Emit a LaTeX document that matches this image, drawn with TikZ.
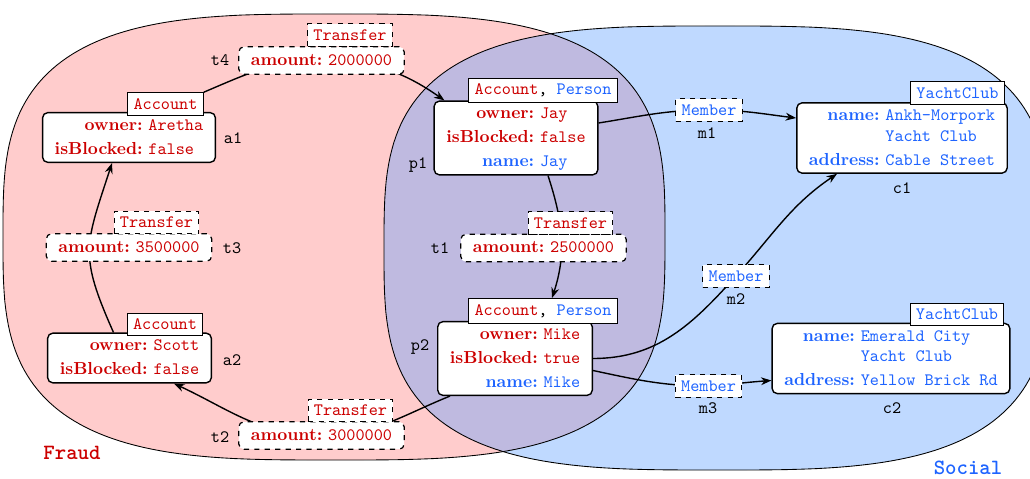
\documentclass[tikz,border=0pt]{standalone}
\usetikzlibrary{arrows.meta,calc}
\definecolor{fred}{RGB}{204,0,0}
\definecolor{sblue}{RGB}{30,100,255}
\definecolor{fraudfill}{RGB}{255,204,204}
\definecolor{socialfill}{RGB}{95,160,255}
\pgfdeclarelayer{regions}
\pgfdeclarelayer{edges}
\pgfsetlayers{regions,edges,main}
\renewcommand\arraystretch{1.15}
\newcommand\rk[1]{\textcolor{fred}{\textbf{#1}}}
\newcommand\rv[1]{\textcolor{fred}{\texttt{#1}}}
\newcommand\bk[1]{\textcolor{sblue}{\textbf{#1}}}
\newcommand\bv[1]{\textcolor{sblue}{\texttt{#1}}}
\newcommand\kv[1]{\begin{tabular}{@{}r@{\ }l@{}}#1\end{tabular}}
\begin{document}
\begin{tikzpicture}[x=0.575pt,y=-0.575pt,
  ent/.style={draw, fill=white, rounded corners=3pt, line width=0.8pt, inner xsep=7pt, inner ysep=0.5pt},
  amt/.style={ent, dashed, line width=0.7pt, inner ysep=1pt},
  hdr/.style={draw, fill=white, line width=0.6pt, font=\ttfamily},
  tagbox/.style={draw, dashed, fill=white, line width=0.7pt, font=\ttfamily},
  nm/.style={font=\ttfamily, inner sep=1pt},
  edge/.style={line width=0.8pt, -{Stealth[length=6pt,width=4.5pt]}},
  region/.style={line width=0.5pt},
  biglabel/.style={font=\fontsize{12.5}{14}\selectfont\ttfamily\bfseries}
]
\useasboundingbox (0,0) rectangle (1030,479);

% entity nodes
\node[ent] (a1) at (129,137.5) {\kv{\rk{owner:} & \rv{Aretha}\\ \rk{isBlocked:} & \rv{false}}};
\node[hdr] (a1h) at (165.5,104) {\rv{Account}};
\node[nm] (a1n) at (233,138) {a1};

\node[ent] (a2) at (129.5,358) {\kv{\rk{owner:} & \rv{Scott}\\ \rk{isBlocked:} & \rv{false}}};
\node[hdr] (a2h) at (165,324.5) {\rv{Account}};
\node[nm] (a2n) at (232,360) {a2};

\node[ent] (p1) at (516,138) {\kv{\rk{owner:} & \rv{Jay}\\ \rk{isBlocked:} & \rv{false}\\ \bk{name:} & \bv{Jay}}};
\node[hdr] (p1h) at (543,90.5) {\rv{Account}, \bv{Person}};
\node[nm] (p1n) at (418,165) {p1};

\node[ent] (p2) at (515,358.5) {\kv{\rk{owner:} & \rv{Mike}\\ \rk{isBlocked:} & \rv{true}\\ \bk{name:} & \bv{Mike}}};
\node[hdr] (p2h) at (543,311) {\rv{Account}, \bv{Person}};
\node[nm] (p2n) at (420,347) {p2};

\node[ent] (c1) at (902,138) {\kv{\bk{name:} & \bv{Ankh-Morpork}\\[-2pt] & \bv{Yacht Club}\\ \bk{address:} & \bv{Cable Street}}};
\node[hdr] (c1h) at (957.5,93) {\bv{YachtClub}};
\node[nm] (c1n) at (902,188) {c1};

\node[ent] (c2) at (891,358.5) {\kv{\bk{name:} & \bv{Emerald City}\\[-2pt] & \bv{Yacht Club}\\ \bk{address:} & \bv{Yellow Brick Rd}}};
\node[hdr] (c2h) at (957,314.5) {\bv{YachtClub}};
\node[nm] (c2n) at (892,408) {c2};

% edge labels
\node[amt] (t4) at (321.5,60.5) {\kv{\rk{amount:} & \rv{2000000}}};
\node[tagbox] (t4h) at (350,35) {\rv{Transfer}};
\node[nm] (t4n) at (220,60) {t4};

\node[amt] (t3) at (129,247.5) {\kv{\rk{amount:} & \rv{3500000}}};
\node[tagbox] (t3h) at (156.5,222.5) {\rv{Transfer}};
\node[nm] (t3n) at (232,248) {t3};

\node[amt] (t1) at (543.5,248) {\kv{\rk{amount:} & \rv{2500000}}};
\node[tagbox] (t1h) at (570.5,223) {\rv{Transfer}};
\node[nm] (t1n) at (440,248) {t1};

\node[amt] (t2) at (321.5,435.5) {\kv{\rk{amount:} & \rv{3000000}}};
\node[tagbox] (t2h) at (350.5,410.5) {\rv{Transfer}};
\node[nm] (t2n) at (220,437) {t2};

\node[tagbox] (m1) at (709,110) {\bv{Member}};
\node[nm] (m1n) at (707,133) {m1};
\node[tagbox] (m2) at (736,276) {\bv{Member}};
\node[nm] (m2n) at (736,299) {m2};
\node[tagbox] (m3) at (708.5,386) {\bv{Member}};
\node[nm] (m3n) at (708,408) {m3};

\node[biglabel, text=fred] (fraud) at (72,453) {Fraud};
\node[biglabel, text=sblue] (social) at (968,468) {Social};

% regions
\begin{pgfonlayer}{regions}
\fill[fraudfill] plot[domain=0.5:360.5,samples=200,variable=\t]
  ({334+331*sign(cos(\t))*pow(abs(cos(\t))+0.0001,0.625)},{237+223*sign(sin(\t))*pow(abs(sin(\t))+0.0001,0.625)}) -- cycle;
\fill[socialfill, fill opacity=0.4] plot[domain=0.5:360.5,samples=200,variable=\t]
  ({717+333*sign(cos(\t))*pow(abs(cos(\t))+0.0001,0.625)},{248+222*sign(sin(\t))*pow(abs(sin(\t))+0.0001,0.625)}) -- cycle;
\draw[region] plot[domain=0.5:360.5,samples=200,variable=\t]
  ({334+331*sign(cos(\t))*pow(abs(cos(\t))+0.0001,0.625)},{237+223*sign(sin(\t))*pow(abs(sin(\t))+0.0001,0.625)}) -- cycle;
\draw[region] plot[domain=0.5:360.5,samples=200,variable=\t]
  ({717+333*sign(cos(\t))*pow(abs(cos(\t))+0.0001,0.625)},{248+222*sign(sin(\t))*pow(abs(sin(\t))+0.0001,0.625)}) -- cycle;
\end{pgfonlayer}

% edges
\begin{pgfonlayer}{edges}
\draw[edge] (a1h.north east) to[out=23,in=180] (t4.center) to[out=0,in=145] ($(p1.north west)+(11,0)$);
\draw[edge] ($(p1.south)+(32,0)$) to[out=-72,in=72] ($(p2h.north)+(9,0)$);
\draw[edge] ($(p1.east)+(0,-15)$) to[out=9,in=180] (m1.center) to[out=0,in=173] ($(c1.west)+(0,-20)$);
\draw[edge] (p2.east) to[out=0,in=-132] (m2.center) to[out=48,in=-146] ($(c1.south)+(-65,0)$);
\draw[edge] ($(p2.east)+(0,12)$) to[out=-12,in=180] (m3.center) to[out=4,in=184] ($(c2.west)+(0,22)$);
\draw[edge] ($(a2.north)+(-16,0)$) to[out=114,in=-108,looseness=1.3] ($(a1.south)+(-17,0)$);
\draw[edge] ($(p2.south west)+(13,0)$) to[out=202,in=0] (t2.center) to[out=180,in=-25] ($(a2.south east)+(-38,0)$);
\end{pgfonlayer}
\end{tikzpicture}
\end{document}
